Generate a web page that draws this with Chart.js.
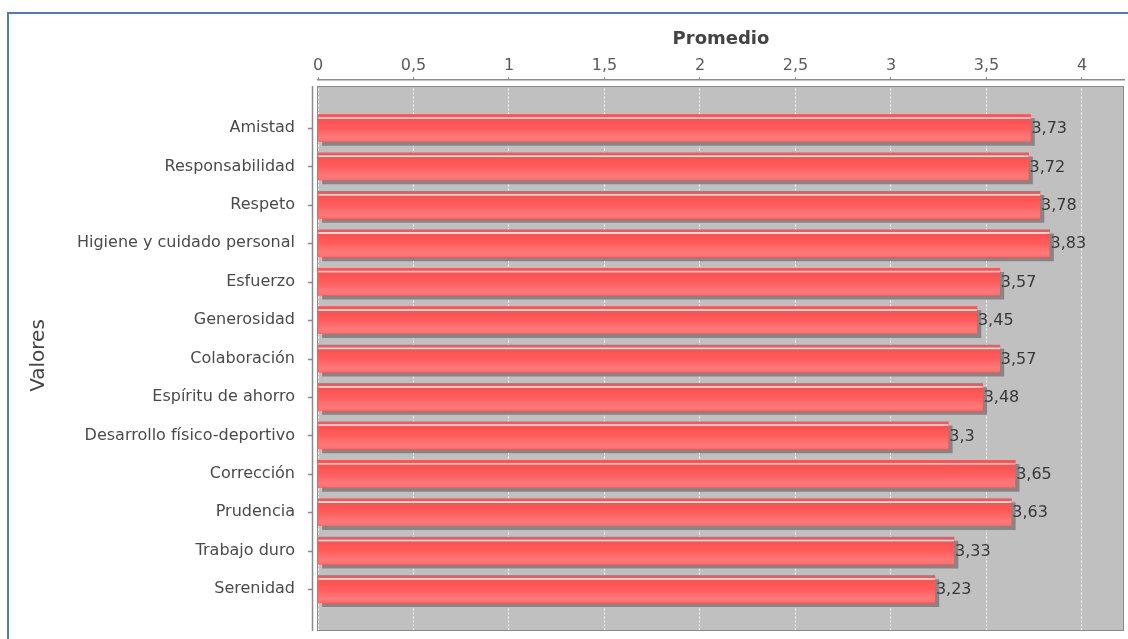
<!DOCTYPE html>
<html>
<head>
<meta charset="utf-8">
<script src="https://cdn.jsdelivr.net/npm/chart.js@4.4.0/dist/chart.umd.min.js"></script>
<style>
  html, body { margin: 0; padding: 0; background: #fff; }
  #wrap { width: 1128px; height: 639px; }
</style>
</head>
<body>
<div id="wrap"><canvas id="chart"></canvas></div>
<script>
const categories = ['Amistad', 'Responsabilidad', 'Respeto', 'Higiene y cuidado personal', 'Esfuerzo',
    'Generosidad', 'Colaboración', 'Espíritu de ahorro', 'Desarrollo físico-deportivo', 'Corrección',
    'Prudencia', 'Trabajo duro', 'Serenidad'];
const promedios = [3.73, 3.72, 3.78, 3.83, 3.57, 3.45, 3.57, 3.48, 3.3, 3.65, 3.63, 3.33, 3.23];
const xTickValues = [0, 0.5, 1, 1.5, 2, 2.5, 3, 3.5, 4];

Chart.defaults.font.family = 'DejaVu Sans';

const fmt = v => String(v).replace('.', ',');

// draws the jfreechart look: gray plot, frame, shadows, gloss and value labels
const jfree = {
    id: 'jfree',
    beforeDraw(chart) {
        const {ctx, chartArea: a} = chart;
        ctx.save();
        ctx.fillStyle = '#c0c0c0';
        ctx.fillRect(a.left, a.top + 6, a.right - a.left, a.bottom - a.top - 6);

        ctx.strokeStyle = '#4a7ebb';
        ctx.lineWidth = 2;
        ctx.beginPath();
        ctx.moveTo(8, 639);
        ctx.lineTo(8, 13);
        ctx.lineTo(1128, 13);
        ctx.stroke();

        ctx.strokeStyle = '#8a8a8a';
        ctx.lineWidth = 1.5;
        ctx.beginPath();
        ctx.moveTo(312.5, a.top + 6);
        ctx.lineTo(312.5, a.bottom);
        const ys = chart.scales.y;
        categories.forEach((c, i) => {
            const py = Math.round(ys.getPixelForValue(i)) + 0.5;
            ctx.moveTo(308, py);
            ctx.lineTo(312, py);
        });
        ctx.stroke();
        ctx.restore();
    },
    beforeDatasetsDraw(chart) {
        const {ctx, chartArea: a} = chart;
        ctx.save();
        ctx.strokeStyle = '#8a8a8a';
        ctx.lineWidth = 1;
        ctx.strokeRect(a.left - 0.5, a.top + 6.5, a.right - a.left, a.bottom - a.top - 7);
        ctx.restore();
    },
    beforeDatasetDraw(chart) {
        const ctx = chart.ctx;
        ctx.save();
        ctx.shadowColor = '#858585';
        ctx.shadowOffsetX = 4;
        ctx.shadowOffsetY = 4;
        ctx.shadowBlur = 0;
    },
    afterDatasetDraw(chart) {
        chart.ctx.restore();
    },
    afterDatasetsDraw(chart) {
        const ctx = chart.ctx;
        const meta = chart.getDatasetMeta(0);
        ctx.save();
        meta.data.forEach((el, i) => {
            const h = el.height;
            const top = el.y - h / 2;
            const g = ctx.createLinearGradient(0, top, 0, top + h);
            g.addColorStop(0, '#ff5252');
            g.addColorStop(0.08, '#ff5252');
            g.addColorStop(0.1, '#ffdcdc');
            g.addColorStop(0.14, '#ffdcdc');
            g.addColorStop(0.17, '#ff4f4f');
            g.addColorStop(0.5, '#ff5c5c');
            g.addColorStop(0.85, '#ff7a7a');
            g.addColorStop(1, '#ff6c6c');
            ctx.fillStyle = g;
            ctx.fillRect(el.base, top, el.x - el.base, h);

            ctx.fillStyle = '#383838';
            ctx.font = '16px "DejaVu Sans"';
            ctx.textBaseline = 'middle';
            ctx.textAlign = 'left';
            ctx.fillText(fmt(promedios[i]), el.x + 1, el.y + 1);
        });
        ctx.restore();
    }
};

new Chart(document.getElementById('chart').getContext('2d'), {
    type: 'bar',
    data: {
        labels: categories,
        datasets: [{
            label: 'Promedio',
            data: promedios.map((v, i) => ({x: v, y: i})),
            backgroundColor: '#ff5555',
            borderWidth: 0,
            barThickness: 27
        }]
    },
    options: {
        indexAxis: 'y',
        responsive: true,
        maintainAspectRatio: false,
        animation: false,
        devicePixelRatio: 1,
        layout: {padding: {left: 0, right: 4, top: 0, bottom: 8}},
        plugins: {
            legend: {display: false},
            tooltip: {enabled: false}
        },
        scales: {
            x: {
                type: 'linear',
                position: 'top',
                min: 0,
                max: 4.22,
                afterBuildTicks: scale => { scale.ticks = xTickValues.map(v => ({value: v})); },
                afterFit: scale => {
                    scale.height = 80;
                    scale.paddingLeft = 0;
                    scale.paddingRight = 0;
                },
                ticks: {
                    color: '#5a5a5a',
                    font: {size: 16},
                    padding: 2,
                    callback: v => fmt(v)
                },
                grid: {
                    color: '#ffffff',
                    lineWidth: 1,
                    tickColor: '#8a8a8a',
                    tickLength: 3
                },
                border: {display: true, color: '#8a8a8a', width: 1.5, dash: [2, 2]},
                title: {
                    display: true,
                    text: 'Promedio',
                    color: '#444',
                    font: {size: 18, weight: 'bold'},
                    padding: {top: 29, bottom: 0}
                }
            },
            y: {
                type: 'linear',
                reverse: true,
                offset: false,
                min: -1.25,
                max: 13.09,
                afterBuildTicks: scale => { scale.ticks = categories.map((c, i) => ({value: i})); },
                afterFit: scale => {
                    scale.width = 318;
                    scale.paddingTop = 0;
                    scale.paddingBottom = 0;
                },
                ticks: {
                    color: '#4a4a4a',
                    font: {size: 16},
                    padding: 15,
                    autoSkip: false,
                    callback: v => categories[v] || ''
                },
                grid: {display: false, offset: false},
                border: {display: false},
                title: {
                    display: true,
                    text: 'Valores',
                    color: '#444',
                    font: {size: 20},
                    padding: {top: 27, bottom: 0}
                }
            }
        }
    },
    plugins: [jfree]
});
</script>
</body>
</html>
